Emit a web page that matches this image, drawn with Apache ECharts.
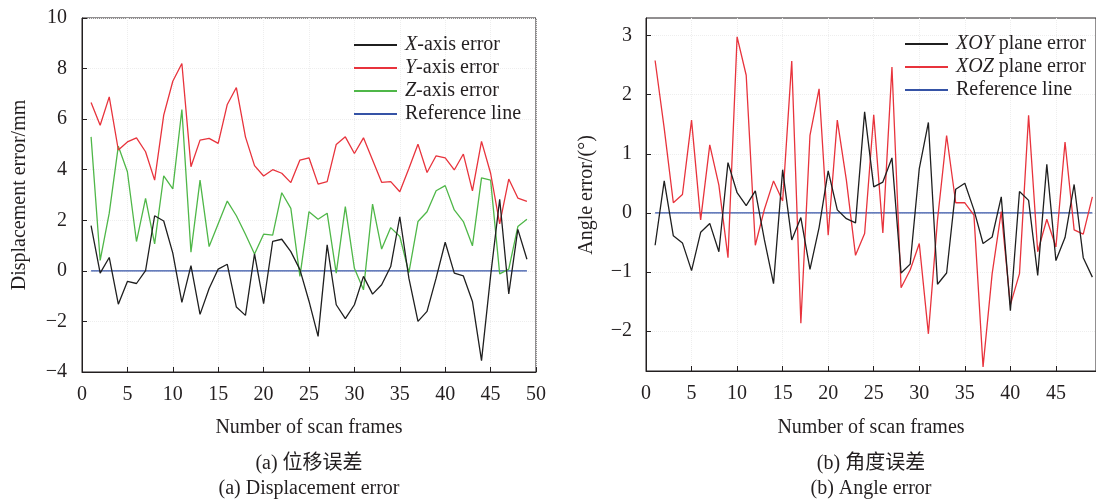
<!DOCTYPE html>
<html><head><meta charset="utf-8">
<script src="https://cdn.jsdelivr.net/npm/echarts@6/dist/echarts.min.js"></script>
<style>html,body{margin:0;padding:0;background:#fff}#c{width:1096px;height:501px}</style>
</head><body><div id="c"></div>
<script>
const frames = [1,2,3,4,5,6,7,8,9,10,11,12,13,14,15,16,17,18,19,20,21,22,23,24,25,26,27,28,29,30,31,32,33,34,35,36,37,38,39,40,41,42,43,44,45,46,47,48,49];
const xAxisErr = [1.79,-0.09,0.53,-1.32,-0.42,-0.5,0.01,2.18,1.97,0.7,-1.25,0.21,-1.72,-0.7,0.07,0.26,-1.43,-1.76,0.67,-1.3,1.17,1.25,0.76,0.05,-1.2,-2.59,1.03,-1.34,-1.89,-1.34,-0.22,-0.92,-0.55,0.17,2.14,-0.29,-2.0,-1.6,-0.29,1.13,-0.09,-0.2,-1.21,-3.55,-0.2,2.83,-0.91,1.64,0.46];
const yAxisErr = [6.66,5.76,6.88,4.78,5.1,5.26,4.71,3.59,6.16,7.5,8.2,4.12,5.17,5.24,5.04,6.58,7.25,5.3,4.16,3.75,4.0,3.86,3.49,4.38,4.47,3.43,3.53,5.0,5.3,4.64,5.26,4.38,3.5,3.53,3.13,4.05,5.01,3.89,4.55,4.47,3.99,4.62,3.16,5.12,3.86,1.86,3.63,2.88,2.75];
const zAxisErr = [5.3,0.41,2.28,4.93,3.92,1.16,2.87,1.07,3.76,3.24,6.38,0.74,3.59,0.96,1.86,2.76,2.18,1.45,0.67,1.45,1.41,3.09,2.47,-0.22,2.34,2.04,2.28,-0.09,2.54,0.1,-0.75,2.64,0.86,1.71,1.36,-0.07,1.95,2.34,3.17,3.37,2.41,1.95,0.99,3.68,3.59,-0.12,0.07,1.75,2.04];
const refLine = [0,0,0,0,0,0,0,0,0,0,0,0,0,0,0,0,0,0,0,0,0,0,0,0,0,0,0,0,0,0,0,0,0,0,0,0,0,0,0,0,0,0,0,0,0,0,0,0,0];
const xoyErr = [-0.55,0.54,-0.39,-0.51,-0.98,-0.33,-0.18,-0.66,0.85,0.34,0.12,0.37,-0.46,-1.2,0.73,-0.46,-0.08,-0.96,-0.25,0.71,0.05,-0.1,-0.17,1.71,0.44,0.52,0.93,-1.02,-0.87,0.75,1.53,-1.21,-1.02,0.4,0.5,0.05,-0.52,-0.41,0.27,-1.66,0.36,0.21,-1.06,0.82,-0.81,-0.42,0.48,-0.76,-1.09];
const xozErr = [2.58,1.43,0.17,0.31,1.57,-0.12,1.15,0.47,-0.76,2.98,2.33,-0.55,0.06,0.54,0.2,2.57,-1.87,1.31,2.1,-0.38,1.57,0.55,-0.72,-0.35,1.66,-0.34,2.47,-1.27,-0.97,-0.52,-2.05,-0.12,1.31,0.17,0.17,-0.04,-2.61,-1.03,0.02,-1.56,-1.03,1.65,-0.66,-0.11,-0.58,1.2,-0.29,-0.36,0.27];
const rightXTicks = [0,5,10,15,20,25,30,35,40,45];
const rightYTicks = [-2,-1,0,1,2,3];

const FONT = '"Liberation Serif","Times New Roman","Noto Sans CJK SC",serif';
const TXT = '#231f20';
const C_BLACK = '#1f1f1f', C_RED = '#e8333c', C_GREEN = '#4fb748', C_BLUE = '#3553a6';

function pairs(vals){ return frames.map((f,i)=>[f, vals[i]]); }
function minus(v){ return String(v).replace('-', '\u2212'); }
function legendFmt(name){
  const m = name.match(/^(XOY|XOZ|X|Y|Z)(.*)$/);
  return m ? '{i|' + m[1] + '}' + m[2] : name;
}

const axisLineStyle = {show:true, onZero:false, lineStyle:{color:TXT, width:1}};
const labelStyle = {color:TXT, fontFamily:FONT, fontSize:20};
const splitStyle = {show:true, lineStyle:{color:'#eeeeee', type:'dotted', width:1}};

function line(name, vals, color, xi){
  return {name, type:'line', xAxisIndex:xi, yAxisIndex:xi, data:pairs(vals), symbol:'none',
    lineStyle:{color, width:1.3}, itemStyle:{color}, animation:false, z: name==='Reference line'?1:2};
}

const legendBase = {orient:'vertical', icon:'rect', itemWidth:43, itemHeight:2, itemGap:3,
  formatter: legendFmt,
  textStyle:{color:TXT, fontFamily:FONT, fontSize:20, lineHeight:20, padding:[0,0,0,3],
    rich:{i:{fontStyle:'italic', fontFamily:FONT, fontSize:20, color:TXT, lineHeight:20}}}};

const chart = echarts.init(document.getElementById('c'), null, {renderer:'canvas'});
chart.setOption({
  backgroundColor:'#ffffff',
  animation:false,
  grid:[
    {left:82, top:18, width:454, height:354, show:true, borderColor:TXT, borderWidth:1},
    {left:646, top:18, width:451, height:353, show:true, borderColor:TXT, borderWidth:1}
  ],
  xAxis:[
    {type:'value', gridIndex:0, min:0, max:50, interval:5, axisLine:axisLineStyle,
     axisTick:{inside:true, length:5, lineStyle:{color:TXT}},
     axisLabel:Object.assign({margin:13}, labelStyle), splitLine:splitStyle},
    {type:'value', gridIndex:1, min:0, max:49.4, interval:5, axisLine:axisLineStyle,
     axisTick:{inside:true, length:5, lineStyle:{color:TXT}, customValues:rightXTicks},
     axisLabel:Object.assign({margin:13, customValues:rightXTicks}, labelStyle), splitLine:splitStyle}
  ],
  yAxis:[
    {type:'value', gridIndex:0, min:-4, max:10, interval:2, axisLine:axisLineStyle,
     axisTick:{show:true, inside:true, length:5, lineStyle:{color:TXT}},
     axisLabel:Object.assign({margin:15, formatter:minus}, labelStyle), splitLine:splitStyle},
    {type:'value', gridIndex:1, min:-2.68, max:3.3, axisLine:axisLineStyle,
     axisTick:{show:true, inside:true, length:5, lineStyle:{color:TXT}, customValues:rightYTicks},
     axisLabel:Object.assign({margin:14, formatter:minus, customValues:rightYTicks}, labelStyle), splitLine:splitStyle}
  ],
  legend:[
    Object.assign({}, legendBase, {left:349, top:30, data:['X-axis error','Y-axis error','Z-axis error','Reference line']}),
    Object.assign({}, legendBase, {left:900, top:29, data:['XOY plane error','XOZ plane error','Reference line']})
  ],
  series:[
    line('Reference line', refLine, C_BLUE, 0),
    line('Z-axis error', zAxisErr, C_GREEN, 0),
    line('Y-axis error', yAxisErr, C_RED, 0),
    line('X-axis error', xAxisErr, C_BLACK, 0),
    line('Reference line', refLine, C_BLUE, 1),
    line('XOZ plane error', xozErr, C_RED, 1),
    line('XOY plane error', xoyErr, C_BLACK, 1)
  ],
  graphic:[
    {type:'text', x:20, y:195, rotation:Math.PI/2, style:{text:'Displacement error/mm', x:0, y:0, align:'center', verticalAlign:'middle', fill:TXT, font:'20px ' + FONT}},
    {type:'text', x:587, y:195, rotation:Math.PI/2, style:{text:'Angle error/(°)', x:0, y:0, align:'center', verticalAlign:'middle', fill:TXT, font:'20px ' + FONT}},
    {type:'text', x:309, y:428, style:{text:'Number of scan frames', align:'center', verticalAlign:'middle', fill:TXT, font:'20px ' + FONT}},
    {type:'text', x:871, y:428, style:{text:'Number of scan frames', align:'center', verticalAlign:'middle', fill:TXT, font:'20px ' + FONT}},
    {type:'text', x:309, y:464, style:{text:'(a) 位移误差', align:'center', verticalAlign:'middle', fill:TXT, font:'20px ' + FONT}},
    {type:'text', x:309, y:489, style:{text:'(a) Displacement error', align:'center', verticalAlign:'middle', fill:TXT, font:'20px ' + FONT}},
    {type:'text', x:871, y:464, style:{text:'(b) 角度误差', align:'center', verticalAlign:'middle', fill:TXT, font:'20px ' + FONT}},
    {type:'text', x:871, y:489, style:{text:'(b) Angle error', align:'center', verticalAlign:'middle', fill:TXT, font:'20px ' + FONT}}
  ]
});
</script></body></html>
